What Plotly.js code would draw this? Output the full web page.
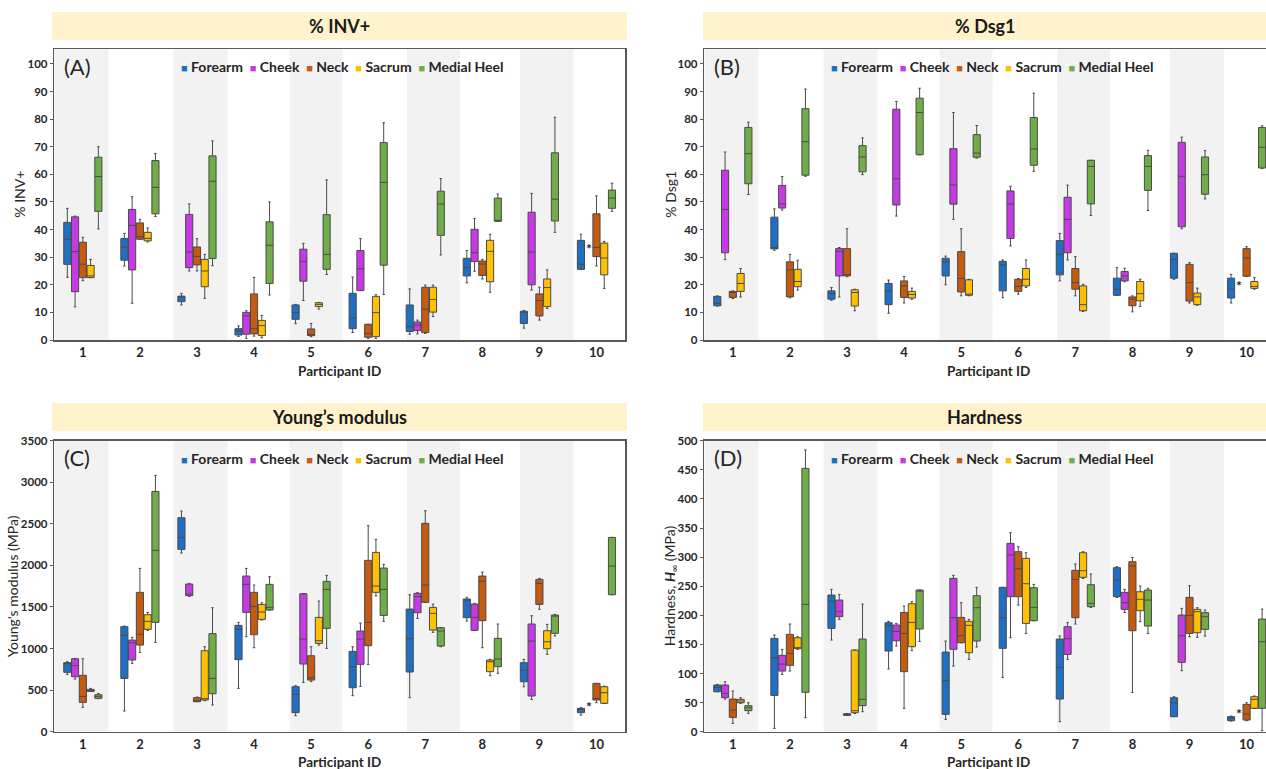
<!DOCTYPE html>
<html>
<head>
<meta charset="utf-8">
<script src="https://cdn.plot.ly/plotly-3.0.1.min.js"></script>
<style>html,body{margin:0;padding:0;background:#fff;}#chart{width:1266px;height:769px;}</style>
</head>
<body>
<div id="chart"></div>
<script>
// ---------------- DATA ----------------
// Each row = one participant: [lower whisker, Q1, median, Q3, upper whisker]; null = no data
const participants = [1,2,3,4,5,6,7,8,9,10];
const siteNames = ["Forearm","Cheek","Neck","Sacrum","Medial Heel"];
const siteColors = ["#1f6fc4","#c63ae6","#c55a11","#ffc000","#70ad47"];

const INV_FOREARM = [[22.7,27.4,36.5,42.6,47.7],[26.8,28.9,33.7,36.8,38.6],[12.7,13.9,15.5,15.9,16.9],[1.3,1.8,3.3,4.1,5.1],[5.9,7.5,9.9,12.7,12.9],[2.7,4.1,7.9,16.9,22.8],[2.1,3.1,4.8,12.7,18.5],[20.7,23.2,26.2,29.6,32.4],[4.3,6.0,10.1,10.4,10.7],[25.6,25.6,27.5,36.1,38.3]];
const INV_CHEEK = [[12.0,17.5,32.0,44.6,44.9],[13.3,25.4,41.5,47.3,51.9],[25.0,26.2,31.9,45.5,49.3],[0.6,2.1,8.7,10.0,10.6],[14.3,21.3,28.5,32.9,35.0],[17.9,17.9,25.8,32.4,36.8],[2.2,3.4,5.4,6.5,7.2],[24.9,28.4,31.6,40.1,44.0],[18.1,20.0,31.9,46.3,53.1],null];
const INV_NECK = [[21.5,22.6,27.5,35.4,37.2],[36.5,36.5,37.4,42.4,43.7],[25.0,27.2,30.3,33.7,36.7],[1.4,2.2,4.1,16.7,22.7],[1.2,1.6,1.8,4.0,6.0],[0.6,1.0,2.4,5.7,5.7],[2.4,2.7,11.2,19.1,19.9],[22.1,23.4,27.5,28.6,29.2],[7.2,8.7,14.3,16.7,19.1],[26.8,30.2,33.5,45.7,52.2]];
const INV_SACRUM = [[22.6,22.6,23.2,27.0,29.2],[35.5,35.9,36.8,39.0,40.6],[15.1,19.3,25.0,29.2,31.0],[0.8,1.6,5.2,7.1,8.9],[11.2,12.1,12.9,13.5,13.6],[0.6,1.2,9.9,15.8,16.4],[8.5,10.1,14.7,19.1,19.9],[17.3,21.1,32.1,36.1,38.3],[11.4,12.1,19.0,22.1,25.4],[18.7,23.6,29.7,35.1,35.7]];
const INV_HEEL = [[40.2,46.6,59.2,66.2,70.0],[44.7,45.7,55.3,65.0,67.6],[26.9,29.5,57.5,66.7,72.1],[16.3,20.5,34.3,42.8,50.0],[23.7,25.6,31.0,45.4,58.0],[16.5,27.1,57.1,71.5,78.7],[30.8,37.9,49.3,53.9,58.5],[43.0,43.0,43.2,51.4,52.9],[39.0,43.1,51.0,67.8,80.7],[46.6,47.7,51.4,54.3,56.8]];

const DSG_FOREARM = [[12.3,12.4,13.2,15.8,16.0],[32.5,33.0,33.5,44.5,47.5],[14.4,14.8,16.8,17.8,19.0],[9.7,12.8,17.8,20.5,21.7],[20.0,23.2,28.3,29.6,30.4],[15.3,17.8,27.2,28.5,29.0],[21.4,23.6,31.0,36.0,38.6],[16.2,16.2,18.4,22.4,26.2],[22.0,22.4,29.2,31.4,31.4],[13.4,15.2,18.4,22.4,23.8]];
const DSG_CHEEK = [[29.1,31.6,47.3,61.5,68.1],[47.1,47.8,49.3,56.0,59.2],[15.6,23.2,32.1,33.1,33.5],[44.9,48.9,58.4,83.6,86.4],[43.7,49.2,56.2,69.3,82.4],[34.1,36.8,49.3,54.0,55.7],[29.0,31.6,43.7,51.7,56.1],[21.1,21.4,23.2,24.8,26.0],[40.3,41.0,59.3,71.6,73.5],null];
const DSG_NECK = [[15.0,15.4,17.2,17.6,17.8],[15.3,15.6,25.4,28.3,31.0],[22.9,23.2,23.7,33.1,40.3],[13.4,15.4,19.6,21.4,23.0],[16.0,17.4,22.3,32.0,40.3],[16.6,17.6,19.4,22.0,22.3],[16.0,18.4,20.8,25.9,30.2],[10.2,12.4,14.8,15.6,16.0],[13.4,14.1,20.8,27.4,28.0],[23.1,23.1,29.7,33.1,33.8]];
const DSG_SACRUM = [[15.6,17.6,20.5,24.1,25.9],[18.1,19.3,21.2,25.6,28.9],[10.6,12.3,17.2,18.2,18.4],[14.8,15.2,16.5,17.6,18.8],[16.0,16.2,16.6,21.8,22.0],[19.0,19.6,22.0,25.9,29.0],[10.3,10.6,12.8,19.6,20.2],[12.2,14.2,16.8,21.2,22.0],[12.6,12.8,15.6,17.0,18.8],[18.4,18.7,19.4,21.2,22.6]];
const DSG_HEEL = [[52.7,56.6,67.5,77.0,78.9],[59.3,59.7,71.8,83.8,90.9],[59.9,60.9,66.3,70.4,73.2],[67.1,67.1,82.4,87.6,91.2],[65.9,66.2,67.7,74.4,77.7],[61.1,63.3,69.2,80.6,89.4],[45.1,49.3,62.9,65.1,65.1],[46.9,54.2,62.9,66.8,68.7],[51.1,52.8,59.9,66.3,68.6],[62.1,62.3,69.8,77.0,77.6]];

const YM_FOREARM = [[690,714,822,830,842],[249,641,1159,1263,1271],[2149,2193,2337,2574,2654],[521,866,1231,1279,1315],[192,229,449,541,553],[433,529,782,966,1022],[409,718,1119,1475,1648],[1331,1371,1584,1596,1616],[541,601,742,830,870],[200,229,273,281,289]];
const YM_CHEEK = [[633,661,794,878,878],[822,862,1070,1102,1135],[1628,1636,1656,1776,1784],[1143,1435,1772,1872,1964],[593,814,1114,1660,1660],[545,810,1114,1211,1307],[1363,1431,1624,1664,1672],[1219,1219,1375,1535,1543],[389,429,1090,1295,1395],null];
const YM_NECK = [[293,353,425,678,878],[954,1042,1171,1676,1964],[361,361,373,409,417],[1010,1167,1507,1676,1764],[601,621,649,914,1022],[810,1034,1315,2061,2478],[1556,1556,1764,2506,2658],[1010,1335,1812,1872,1920],[1471,1531,1784,1832,1844],[349,381,401,581,581]];
const YM_SACRUM = [[485,485,497,509,521],[1219,1231,1327,1407,1435],[373,381,397,974,1022],[1343,1351,1439,1531,1551],[1042,1062,1094,1375,1571],[1632,1676,1752,2157,2313],[1195,1223,1423,1495,1535],[674,722,842,862,870],[930,998,1082,1215,1291],[341,341,469,541,549]];
const YM_HEEL = [[397,401,425,445,461],[1074,1315,2181,2890,3083],[321,457,641,1179,1491],[1463,1463,1495,1772,1864],[1002,1243,1712,1808,1880],[1327,1399,1712,1968,2013],[1022,1030,1211,1251,1251],[702,782,874,1123,1295],[1151,1183,1391,1403,1411],[1648,1648,1992,2337,2337]];

const HD_FOREARM = [[68.7,68.7,76.2,80.2,81.3],[5.7,62.4,127.1,160.4,166.1],[157.5,177.5,224.5,234.8,244.5],[107.7,138.6,182.7,187.3,189.6],[21.2,29.8,87.6,136.9,155.8],[93.3,143.2,195.9,248.0,248.0],[17.2,56.1,110.5,159.2,164.4],[230.8,231.9,260.6,281.8,283.5],[25.8,25.8,49.8,58.4,60.1],[18.3,18.9,22.9,25.8,26.9]];
const HD_CHEEK = [[56.1,58.4,65.9,80.2,85.9],[98.5,104.2,116.3,131.2,141.5],[193.0,197.6,206.2,226.2,236.0],[147.2,156.3,172.4,183.3,186.1],[112.8,141.5,195.9,263.4,268.6],[161.5,231.9,303.5,323.6,341.9],[124.3,132.9,159.8,180.4,187.3],[205.0,210.2,221.6,239.4,244.5],[104.8,119.1,164.9,200.4,211.9],null];
const HD_NECK = [[14.3,24.6,37.2,56.1,69.9],[104.2,114.0,134.6,167.2,185.0],[28.1,28.1,29.2,30.9,30.9],[40.1,103.1,168.9,205.0,215.9],[152.9,152.9,164.9,196.4,221.6],[217.6,231.9,280.0,309.3,317.8],[185.0,195.9,261.7,277.2,288.1],[67.6,173.5,284.6,292.1,299.5],[163.2,168.9,199.9,230.8,250.8],[18.9,20.0,30.4,47.0,49.8]];
const HD_SACRUM = [[48.7,49.8,52.7,55.6,58.4],[141.5,142.6,144.3,161.5,163.2],[31.5,32.6,36.1,140.3,140.3],[139.2,146.0,187.8,219.9,223.4],[124.3,135.7,182.7,189.6,193.0],[168.9,186.1,254.3,297.8,307.5],[263.4,265.2,276.6,307.5,309.3],[189.0,207.9,227.4,240.5,250.3],[162.1,170.1,206.2,210.2,213.0],[40.1,40.1,55.6,60.1,61.3]];
const HD_HEEL = [[31.5,36.1,41.2,44.7,49.8],[24.1,67.6,218.8,452.4,484.0],[34.4,44.7,55.6,159.2,219.3],[155.2,176.4,242.2,243.4,243.4],[145.5,155.8,213.0,233.7,248.0],[190.7,190.7,213.6,247.4,253.1],[213.6,214.8,220.5,252.6,270.9],[168.9,181.5,226.2,243.4,246.3],[164.4,175.8,197.6,204.5,209.0],[1.7,40.1,154.6,193.6,210.7]];

// asterisk (missing Cheek, participant 10) height in each panel
const asteriskY = [33, 19.6, 309, 31.5];

const panelTitles = ["% INV+","% Dsg1","Young’s modulus","Hardness"];
const panelLetters = ["(A)","(B)","(C)","(D)"];
const yTitles = ["% INV+","% Dsg1","Young's modulus (MPa)","Hardness, <b><i>H</i></b><sub>∞</sub> (MPa)"];
const yTickStep = [10,10,500,50];
const xTitle = "Participant ID";

// ---------------- LAYOUT GEOMETRY (pixels) ----------------
const W = 1266, H = 769;
const px = v => v / W;
const py = v => 1 - v / H;
const panels = [
  {data:[INV_FOREARM,INV_CHEEK,INV_NECK,INV_SACRUM,INV_HEEL], left:54.3, right:625, top:49.3, bottom:340, ymax:105.3, xmax:10.5, mirrorY:true, hdr:[52,627,12,40], ytx:20, xty:371, xtx:339.6},
  {data:[DSG_FOREARM,DSG_CHEEK,DSG_NECK,DSG_SACRUM,DSG_HEEL], left:704.3, right:1266, top:49.3, bottom:340, ymax:105.3, xmax:10.34, mirrorY:false, hdr:[703,1266,12,40], ytx:671, xty:371, xtx:988},
  {data:[YM_FOREARM,YM_CHEEK,YM_NECK,YM_SACRUM,YM_HEEL], left:54.3, right:625, top:440.7, bottom:731.7, ymax:3500, xmax:10.5, mirrorY:true, hdr:[52,627,403,431], ytx:12, xty:762, xtx:339.6},
  {data:[HD_FOREARM,HD_CHEEK,HD_NECK,HD_SACRUM,HD_HEEL], left:704.3, right:1266, top:440.7, bottom:731.7, ymax:500, xmax:10.34, mirrorY:false, hdr:[703,1266,403,431], ytx:670, xty:762, xtx:988}
];
const bands = [[0.5,1.45],[2.59,3.53],[4.62,5.55],[6.68,7.61],[8.66,9.6]];
const BOXGAP = 0.32, BOXGROUPGAP = 0.08;
const FONT = "Lato, 'Open Sans', sans-serif";
const AXC = "#595959", TXT = "#262626";

const traces = [], shapes = [], annotations = [];
const layout = {
  width: W, height: H, margin:{l:0,r:0,t:0,b:0},
  paper_bgcolor:"#ffffff", plot_bgcolor:"#ffffff",
  showlegend:false, boxmode:"group", boxgap:BOXGAP, boxgroupgap:BOXGROUPGAP,
  font:{family:FONT, color:TXT}, hovermode:false
};

panels.forEach((p, i) => {
  const n = i + 1, sfx = n === 1 ? "" : String(n);
  const xa = "x" + sfx, ya = "y" + sfx;
  layout["xaxis" + sfx] = {
    domain:[px(p.left), px(p.right)], range:[0.5, p.xmax], anchor:ya,
    tickmode:"array", tickvals:participants, ticktext:participants.map(String),
    ticks:"", showgrid:false, zeroline:false, showline:true, linecolor:AXC, linewidth:1.5, mirror:true,
    tickfont:{size:13, weight:700, color:TXT, family:FONT}, fixedrange:true
  };
  layout["yaxis" + sfx] = {
    domain:[py(p.bottom), py(p.top)], range:[0, p.ymax], anchor:xa,
    dtick:yTickStep[i], tick0:0, ticks:"outside", ticklen:3, tickwidth:1, tickcolor:AXC,
    showgrid:false, zeroline:false, showline:true, linecolor:AXC, linewidth:1.5, mirror:p.mirrorY,
    tickfont:{size:11.5, weight:700, color:TXT, family:FONT}, fixedrange:true
  };
  // alternating participant bands
  bands.forEach(b => shapes.push({type:"rect", xref:xa, yref:ya + " domain", x0:b[0], x1:b[1], y0:0, y1:1,
    fillcolor:"#f2f2f2", line:{width:0}, layer:"below"}));
  // header bar
  shapes.push({type:"rect", xref:"paper", yref:"paper", x0:px(p.hdr[0]), x1:px(p.hdr[1]), y0:py(p.hdr[3]), y1:py(p.hdr[2]),
    fillcolor:"#fff2cc", line:{width:0}, layer:"below"});
  annotations.push({xref:"paper", yref:"paper", x:px((p.hdr[0]+p.hdr[1])/2), y:py((p.hdr[2]+p.hdr[3])/2),
    text:"<b>"+panelTitles[i]+"</b>", showarrow:false, xanchor:"center", yanchor:"middle",
    font:{size:18, color:"#1a1a1a", family:FONT}});
  // panel letter
  annotations.push({xref:"paper", yref:"paper", x:px(p.left+8), y:py(p.top+17), text:panelLetters[i],
    showarrow:false, xanchor:"left", yanchor:"middle", font:{size:22, color:TXT, family:FONT}});
  // legend line (as text)
  const legendText = siteNames.map((s, k) =>
    '<span style="color:' + siteColors[k] + ';font-size:11px">■</span> ' + s).join('  ');
  annotations.push({xref:"paper", yref:"paper", x:px(p.left+125), y:py(p.top+17.5), text:"<b>"+legendText+"</b>",
    showarrow:false, xanchor:"left", yanchor:"middle", font:{size:14, color:TXT, family:FONT}});
  // axis titles
  annotations.push({xref:"paper", yref:"paper", x:px(p.ytx), y:py((p.top+p.bottom)/2), text:yTitles[i],
    textangle:-90, showarrow:false, xanchor:"center", yanchor:"middle", font:{size:14, color:TXT, family:FONT}});
  annotations.push({xref:"paper", yref:"paper", x:px(p.xtx), y:py(p.xty), text:"<b>"+xTitle+"</b>",
    showarrow:false, xanchor:"center", yanchor:"middle", font:{size:13.5, color:TXT, family:FONT}});
  // boxes (grouped per panel via alignmentgroup / offsetgroup)
  p.data.forEach((rows, k) => {
    const xs = [], lo = [], q1 = [], md = [], q3 = [], hi = [];
    rows.forEach((r, j) => { if (r) { xs.push(participants[j]); lo.push(r[0]); q1.push(r[1]); md.push(r[2]); q3.push(r[3]); hi.push(r[4]); } });
    traces.push({type:"box", name:siteNames[k], xaxis:xa, yaxis:ya, x:xs,
      alignmentgroup:"panel" + n, offsetgroup:siteNames[k],
      lowerfence:lo, q1:q1, median:md, q3:q3, upperfence:hi,
      fillcolor:siteColors[k], line:{color:"#4a4a4a", width:1}, whiskerwidth:0.35,
      boxpoints:false, hoverinfo:"skip", showlegend:false});
  });
  // asterisk for the missing Cheek box of participant 10
  const cheekOffset = -(1 - BOXGAP) * 0.2;
  annotations.push({xref:xa, yref:ya, x:participants[9] + cheekOffset, y:asteriskY[i], text:"<b>*</b>",
    showarrow:false, xanchor:"center", yanchor:"middle", font:{size:14, color:TXT, family:FONT}});
});

layout.shapes = shapes;
layout.annotations = annotations;
Plotly.newPlot("chart", traces, layout, {staticPlot:true, displayModeBar:false});
</script>
</body>
</html>
